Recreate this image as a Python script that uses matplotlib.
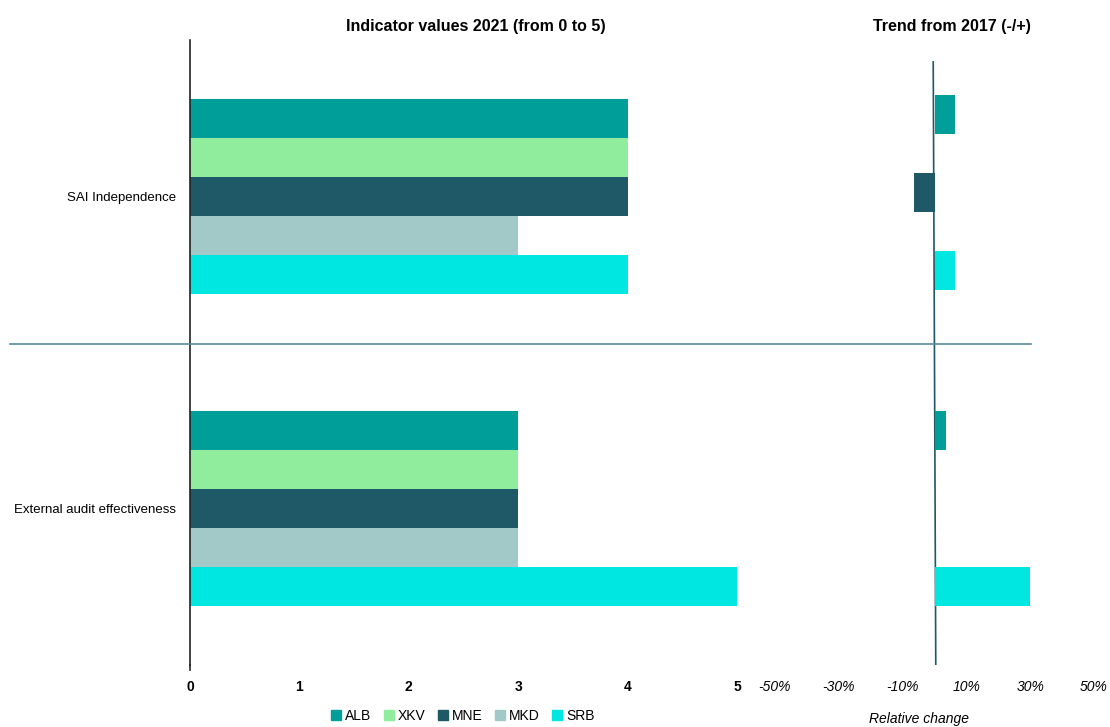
import matplotlib
matplotlib.use("Agg")
from matplotlib import pyplot as plt
from matplotlib.lines import Line2D
from matplotlib.patches import Patch
import numpy as np

plt.rcParams['font.family'] = ['Liberation Sans', 'DejaVu Sans']

categories = ['SAI Independence', 'External audit effectiveness']
countries = ['ALB', 'XKV', 'MNE', 'MKD', 'SRB']
colors = ['#009E99', '#90ED9E', '#1F5866', '#A2C8C7', '#00E6E0']

# indicator values 2021 (0-5), one list per country: [SAI, external audit]
values = {
    'ALB': [4, 3],
    'XKV': [4, 3],
    'MNE': [4, 3],
    'MKD': [3, 3],
    'SRB': [4, 5],
}
# relative change since 2017 (%), None = no bar
trend = {
    'ALB': [6.5, 3.5],
    'XKV': [None, None],
    'MNE': [-6.3, None],
    'MKD': [None, None],
    'SRB': [6.3, 30.0],
}
left_ticks = [0, 1, 2, 3, 4, 5]
right_ticks = [-50, -30, -10, 10, 30, 50]

W, H = 1110, 727
fig = plt.figure(figsize=(W / 100, H / 100), dpi=100)

def box(x0, x1, y0, y1):
    return [x0 / W, 1 - y1 / H, (x1 - x0) / W, (y1 - y0) / H]

ax = fig.add_axes(box(190, 737, 40, 665))
ax2 = fig.add_axes(box(775, 1094, 40, 665))

bh = 0.125
ypos = np.arange(len(categories))
shift = [-0.012, 0.0]  # small offset of the trend bars in the top group
for i, c in enumerate(countries):
    off = (i - 2) * bh
    ax.barh(ypos + off, values[c], height=bh, color=colors[i], label=c)
    for j, v in enumerate(trend[c]):
        if v is not None:
            ax2.barh(ypos[j] + off + shift[j], v, height=bh, color=colors[i])

for a in (ax, ax2):
    a.set_ylim(1.5, -0.5)
    for s in ['top', 'right', 'bottom']:
        a.spines[s].set_visible(False)

ax.set_xlim(0, 5)
ax.set_xticks(left_ticks)
ax.set_xticklabels([str(t) for t in left_ticks], fontweight='bold', fontsize=10)
ax.tick_params(axis='x', length=0, pad=11)
ax.tick_params(axis='y', length=0, pad=10)
ax.set_yticks(ypos)
ax.set_yticklabels(categories, fontsize=9.5)
ax.spines['left'].set_color('#222222')
ax.spines['left'].set_linewidth(1.2)
ax.plot([0, 0], [1.5, 1.515], color='#222222', lw=1.2, clip_on=False)

ax2.set_xlim(-50, 50)
ax2.set_xticks(right_ticks)
ax2.set_xticklabels(['%d%%' % t for t in right_ticks], fontstyle='italic', fontsize=10)
ax2.tick_params(axis='x', length=0, pad=11)
ax2.set_yticks([])
ax2.spines['left'].set_visible(False)
ax2.plot([-0.4, 0.4], [-0.43, 1.5], color='#1F5866', lw=1.2, zorder=0)
ax2.text(0.45, -0.087, 'Relative change', transform=ax2.transAxes,
         fontstyle='italic', fontsize=10, ha='center', va='center')

fig.add_artist(Line2D([10 / W, 1031 / W], [1 - 344 / H, 1 - 344 / H],
                      color='#5A8C96', lw=1.2))

fig.text(476 / W, 1 - 27 / H, 'Indicator values 2021 (from 0 to 5)',
         ha='center', va='center', fontweight='bold', fontsize=11.5)
fig.text(952 / W, 1 - 27 / H, 'Trend from 2017 (-/+)',
         ha='center', va='center', fontweight='bold', fontsize=11.5)

handles = [Patch(color=colors[i], label=c) for i, c in enumerate(countries)]
fig.legend(handles=handles, loc='center', bbox_to_anchor=(463 / W, 1 - 716 / H),
           ncol=5, frameon=False, fontsize=10, handlelength=0.7, handleheight=0.7,
           handletextpad=0.3, columnspacing=0.9)

fig.savefig('out.png', dpi=100)
